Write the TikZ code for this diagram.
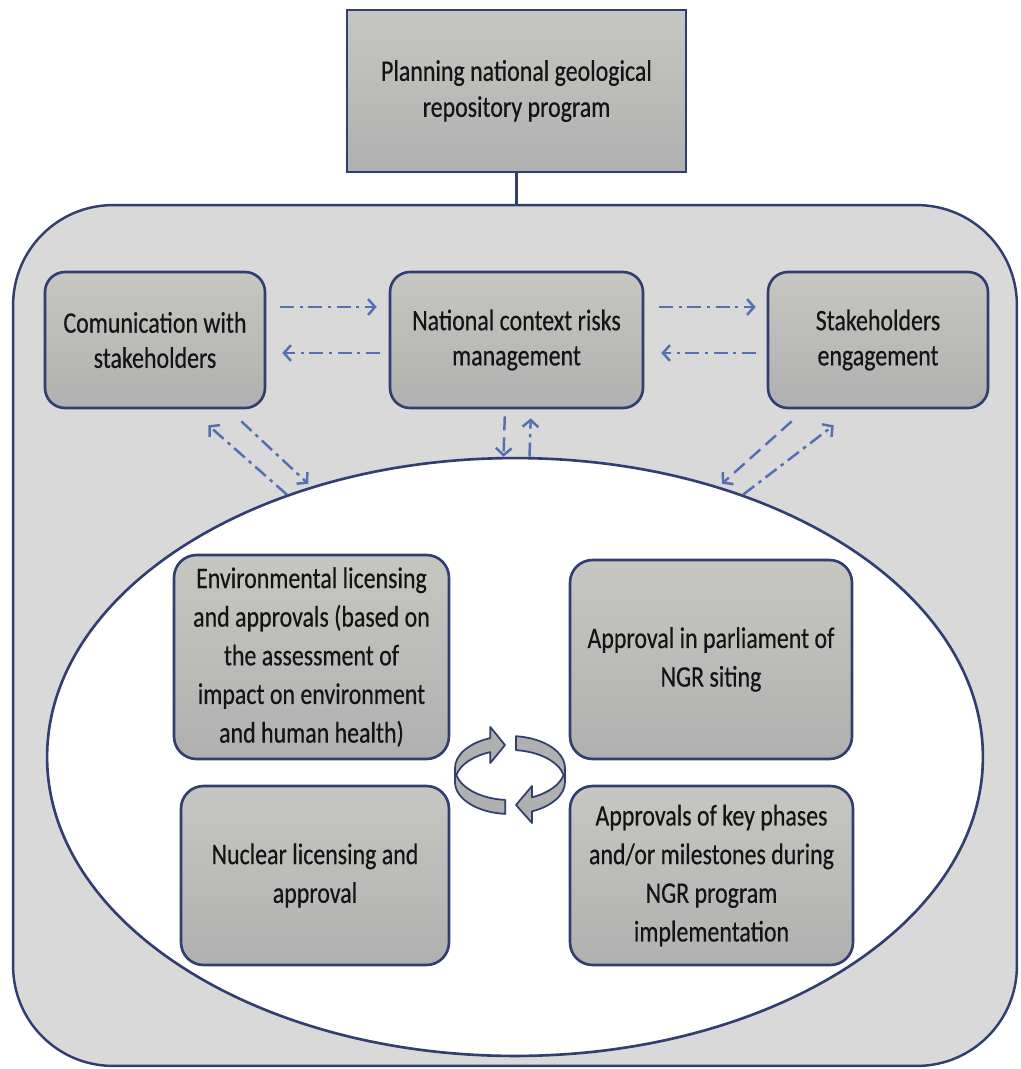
\documentclass[tikz,border=0pt]{standalone}
\usepackage{fontspec}
\setmainfont[FakeStretch=0.8,FakeBold=0.4]{Carlito}
\usepackage{tikz}
\usetikzlibrary{arrows.meta}
\usetikzlibrary{shapes.geometric}

\definecolor{navy}{RGB}{50,62,112}
\definecolor{boxgray}{RGB}{176,176,176}
\definecolor{boxtop}{RGB}{198,198,194}
\definecolor{panel}{RGB}{217,217,217}
\definecolor{link}{RGB}{84,112,176}
\definecolor{ink}{RGB}{20,20,20}
\definecolor{loopgray}{RGB}{176,176,176}

\begin{document}
\begin{tikzpicture}[x=0.02cm,y=-0.02cm]
\useasboundingbox (0,0) rectangle (1021,1069);

% outer panel and the approvals ellipse
\node (9) at (515,635.5) [draw=navy, line width=1.4pt, fill=panel, rounded corners=2cm,
      minimum width=20.08cm, minimum height=17.22cm, inner sep=0pt] {};
\node (8) at (515,757) [ellipse, draw=navy, line width=1.5pt, fill=white,
      minimum width=18.72cm, minimum height=11.96cm, inner sep=0pt] {};

\node (0) at (516.5,91) [draw=navy, line width=1.5pt, top color=boxtop, bottom color=boxgray,
      minimum width=6.78cm, minimum height=3.24cm, align=center, text=ink,
      font=\fontsize{17}{20.5}\selectfont] {Planning national geological\\repository program};
\draw[navy, line width=1.2pt] (0.south) -- (0.south |- 9.north);

\begin{scope}[every node/.style={draw=navy, line width=1.5pt, rounded corners=0.4cm,
              top color=boxtop, bottom color=boxgray, minimum height=2.72cm,
              align=center, text=ink, font=\fontsize{17}{20}\selectfont}]
	\node (1) at (155,340) [minimum width=4.4cm] {Comunication with\\stakeholders};
	\node (2) at (516.5,340) [minimum width=5.06cm] {National context risks\\management};
	\node (3) at (878,340) [minimum width=4.4cm] {Stakeholders\\engagement};
\end{scope}

\begin{scope}[every node/.style={draw=navy, line width=1.5pt, rounded corners=0.45cm,
              top color=boxtop, bottom color=boxgray, inner sep=2pt,
              align=center, text=ink, font=\fontsize{17}{22}\selectfont}]
	\node (4) at (311.5,657) [minimum width=5.5cm, minimum height=4.08cm]
	      {Environmental licensing\\and approvals (based on\\the assessment of\\impact on environment\\and human health)};
	\node (5) at (711,659.5) [minimum width=5.64cm, minimum height=3.98cm]
	      {Approval in parliament of\\NGR siting};
	\node (6) at (315,875.5) [minimum width=5.36cm, minimum height=3.58cm]
	      {Nuclear licensing and\\approval};
	\node (7) at (711.5,875.5) [minimum width=5.66cm, minimum height=3.58cm]
	      {Approvals of key phases\\and/or milestones during\\NGR program\\implementation};
\end{scope}

\begin{scope}[>={Straight Barb[length=4pt,width=9pt]},
              every edge/.style={draw=link, line width=1.4pt},
              ddline/.style={dash pattern=on 8pt off 3pt on 2pt off 3pt},
              daline/.style={dash pattern=on 8pt off 4pt}]
	\path ([yshift=0.66cm]1.east) edge[->, ddline, shorten <=0.28cm, shorten >=0.24cm] ([yshift=0.66cm]2.west);
	\path ([yshift=-0.26cm]2.west) edge[->, ddline, shorten <=0.18cm, shorten >=0.32cm] ([yshift=-0.26cm]1.east);
	\path ([yshift=0.66cm]2.east) edge[->, ddline, shorten <=0.3cm, shorten >=0.22cm] ([yshift=0.66cm]3.west);
	\path ([yshift=-0.26cm]3.west) edge[->, ddline, shorten <=0.22cm, shorten >=0.34cm] ([yshift=-0.26cm]2.east);

	\path ([xshift=-0.23cm]2.south) edge[->, daline, shorten <=0.14cm] ([xshift=-0.23cm]8.north);
	\path ([xshift=0.29cm]8.north) edge[->, ddline, shorten >=0.18cm] ([xshift=0.29cm]2.south);

	\path (8.131) edge[->, ddline] ([xshift=-1.16cm,yshift=-0.32cm]1.south east);
	\path ([xshift=-0.5cm,yshift=-0.24cm]1.south east) edge[->, ddline, shorten >=0.08cm] (8.127);
	\path ([xshift=0.5cm,yshift=-0.24cm]3.south west) edge[->, daline, shorten >=0.08cm] (8.53);
	\path (8.49) edge[->, ddline] ([xshift=1.34cm,yshift=-0.32cm]3.south west);
\end{scope}

% turning loop in the middle
\filldraw[fill=loopgray, draw=navy, line width=1pt, line join=round]
	(505.2,813.9) arc[start angle=95, end angle=180, x radius=55, y radius=32]
	-- (455,768) arc[start angle=180, end angle=249, x radius=55, y radius=32]
	-- (490.3,727) -- (505,745) -- (490.3,763) -- (490.3,752.1)
	arc[start angle=249, end angle=192.6, x radius=55, y radius=32]
	arc[start angle=167.4, end angle=95, x radius=55, y radius=32] -- cycle;
\filldraw[fill=loopgray, draw=navy, line width=1pt, line join=round]
	(516,736.2) arc[start angle=276.3, end angle=360, x radius=55, y radius=32]
	-- (565,782) arc[start angle=0, end angle=66.4, x radius=55, y radius=32]
	-- (532,823) -- (516,805) -- (532,786) -- (532,797.3)
	arc[start angle=66.4, end angle=12.6, x radius=55, y radius=32]
	arc[start angle=-12.6, end angle=-83.7, x radius=55, y radius=32] -- cycle;
\end{tikzpicture}
\end{document}
